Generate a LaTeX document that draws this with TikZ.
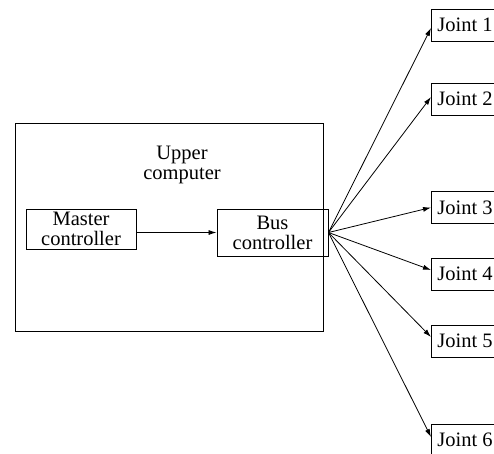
\documentclass[tikz,border=0pt]{standalone}
\usepackage{fontspec}
\setmainfont{Liberation Serif}
\usetikzlibrary{arrows.meta}
\begin{document}
\begin{tikzpicture}[x=1pt,y=-1pt,
  every node/.style={font=\fontsize{20.5}{20}\selectfont},
  box/.style={draw, line width=0.9pt, inner sep=0pt, align=center},
  joint/.style={box, anchor=west, minimum height=32pt, inner xsep=6pt},
  arr/.style={-{Latex[length=8pt,width=5pt]}, line width=0.8pt}]
\useasboundingbox (0,0) rectangle (494,453);
\node[box, minimum width=308pt, minimum height=208pt] (upper) at (169,227) {};
\node[align=center, inner sep=0pt] (uptext) at (182,165) {Upper\\computer};
\node[box, minimum width=110pt, minimum height=40pt] (master) at (81,229) {Master\\controller};
\node[box, minimum width=111pt, minimum height=47pt] (bus) at (272.5,232.5) {Bus\\controller};
\node[joint] (j1) at (431,25) {Joint 1};
\node[joint] (j2) at (431,99) {Joint 2};
\node[joint] (j3) at (431,207.5) {Joint 3};
\node[joint] (j4) at (431,274) {Joint 4};
\node[joint] (j5) at (431,341) {Joint 5};
\node[joint] (j6) at (431,440) {Joint 6};
\draw[arr] (master.east |- bus.west) -- (bus.west);
\draw[arr] (bus.east) -- ([yshift=-3pt]j1.west);
\draw[arr] (bus.east) -- ([yshift=2pt]j2.west);
\draw[arr] (bus.east) -- (j3.west);
\draw[arr] (bus.east) -- ([yshift=4pt]j4.west);
\draw[arr] (bus.east) -- ([yshift=4pt]j5.west);
\draw[arr] (bus.east) -- ([yshift=3pt]j6.west);
\end{tikzpicture}
\end{document}
